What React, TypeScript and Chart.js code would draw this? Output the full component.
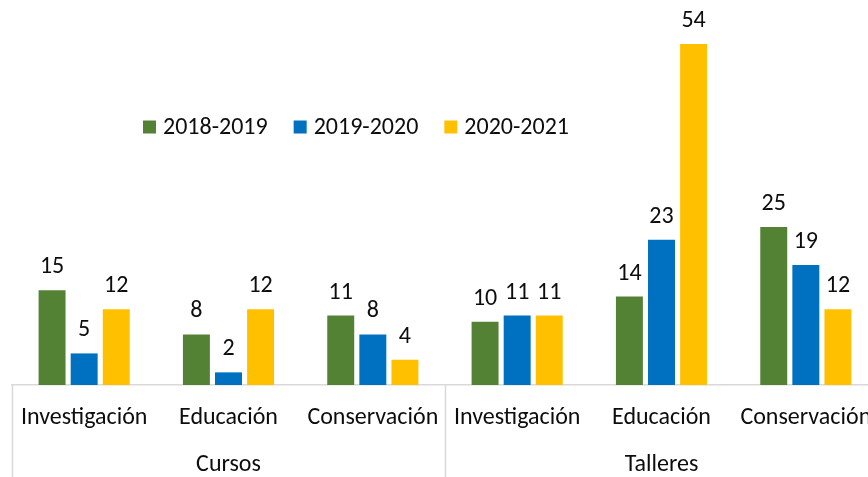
import React, { useEffect, useRef } from "react";
import { Chart, registerables } from "chart.js";

Chart.register(...registerables);

const categories = ["Investigación", "Educación", "Conservación", "Investigación", "Educación", "Conservación"];
const groups = ["Cursos", "Talleres"];
const seriesNames = ["2018-2019", "2019-2020", "2020-2021"];
const s2018 = [15, 8, 11, 10, 14, 25];
const s2019 = [5, 2, 8, 11, 23, 19];
const s2020 = [12, 12, 4, 11, 54, 12];
const colors = ["#548235", "#0070C0", "#FFC000"];

const FONT = "Carlito, Lato, 'Liberation Sans', sans-serif";
const TEXT = "#0d0d0d";
const FS = 24;

const overlayPlugin = {
  id: "overlay",
  afterDatasetsDraw(chart: any) {
    const ctx = chart.ctx;
    ctx.save();
    ctx.font = `${FS}px ${FONT}`;
    ctx.fillStyle = TEXT;
    ctx.textAlign = "center";
    ctx.textBaseline = "alphabetic";
    chart.data.datasets.forEach((ds: any, i: number) => {
      const meta = chart.getDatasetMeta(i);
      meta.data.forEach((bar: any, j: number) => {
        ctx.fillText(String(ds.data[j]), bar.x, bar.y - 17);
      });
    });
    ctx.restore();
  },
  afterDraw(chart: any) {
    const ctx = chart.ctx;
    const xs = chart.scales.x;
    const area = chart.chartArea;
    const step = xs.getPixelForValue(1) - xs.getPixelForValue(0);
    ctx.save();
    ctx.strokeStyle = "#d9d9d9";
    ctx.lineWidth = 1.5;
    const per = categories.length / groups.length;
    for (let g = 0; g <= groups.length; g++) {
      const x = xs.getPixelForValue(g * per) - step / 2;
      ctx.beginPath();
      ctx.moveTo(Math.round(x) + 0.5, area.bottom);
      ctx.lineTo(Math.round(x) + 0.5, chart.height);
      ctx.stroke();
    }
    ctx.font = `${FS}px ${FONT}`;
    ctx.fillStyle = TEXT;
    ctx.textAlign = "center";
    ctx.textBaseline = "middle";
    groups.forEach((gname, g) => {
      const x0 = xs.getPixelForValue(g * per) - step / 2;
      const x1 = xs.getPixelForValue((g + 1) * per - 1) + step / 2;
      ctx.fillText(gname, (x0 + x1) / 2, 465);
    });
    let lx = 143;
    const ly = 127;
    ctx.textAlign = "left";
    seriesNames.forEach((name, i) => {
      ctx.fillStyle = colors[i];
      ctx.fillRect(lx, ly - 6.5, 13, 13);
      ctx.fillStyle = TEXT;
      const tx = lx + 20;
      ctx.fillText(name, tx, ly + 1);
      lx = tx + ctx.measureText(name).width + 26;
    });
    ctx.restore();
  },
};

export default function App() {
  const ref = useRef<HTMLCanvasElement>(null);
  useEffect(() => {
    const canvas = ref.current!;
    const chart = new Chart(canvas, {
      type: "bar",
      data: {
        labels: categories,
        datasets: [s2018, s2019, s2020].map((d, i) => ({
          label: seriesNames[i],
          data: d,
          backgroundColor: colors[i],
          categoryPercentage: 0.667,
          barPercentage: 0.84,
        })),
      },
      options: {
        responsive: false,
        animation: false,
        devicePixelRatio: 1,
        layout: { padding: { left: 12, right: 6, top: 6, bottom: 0 } },
        plugins: { legend: { display: false }, tooltip: { enabled: false } },
        scales: {
          x: {
            grid: { display: false, drawTicks: false },
            border: { display: true, color: "#d9d9d9", width: 1.5 },
            ticks: {
              color: TEXT,
              font: { family: FONT, size: FS },
              padding: 19,
              maxRotation: 0,
              autoSkip: false,
            },
            afterFit: (scale: any) => {
              scale.height = 92;
              scale.paddingLeft = 0;
              scale.paddingRight = 0;
            },
          },
          y: {
            display: false,
            min: 0,
            max: 60,
          },
        },
      },
      plugins: [overlayPlugin],
    });
    return () => chart.destroy();
  }, []);
  return (
    <div style={{ position: "fixed", left: 0, top: 0, width: 868, height: 477, overflow: "hidden", background: "#fff" }}>
      <canvas ref={ref} width={884} height={477} style={{ width: 884, height: 477, display: "block" }} />
    </div>
  );
}
